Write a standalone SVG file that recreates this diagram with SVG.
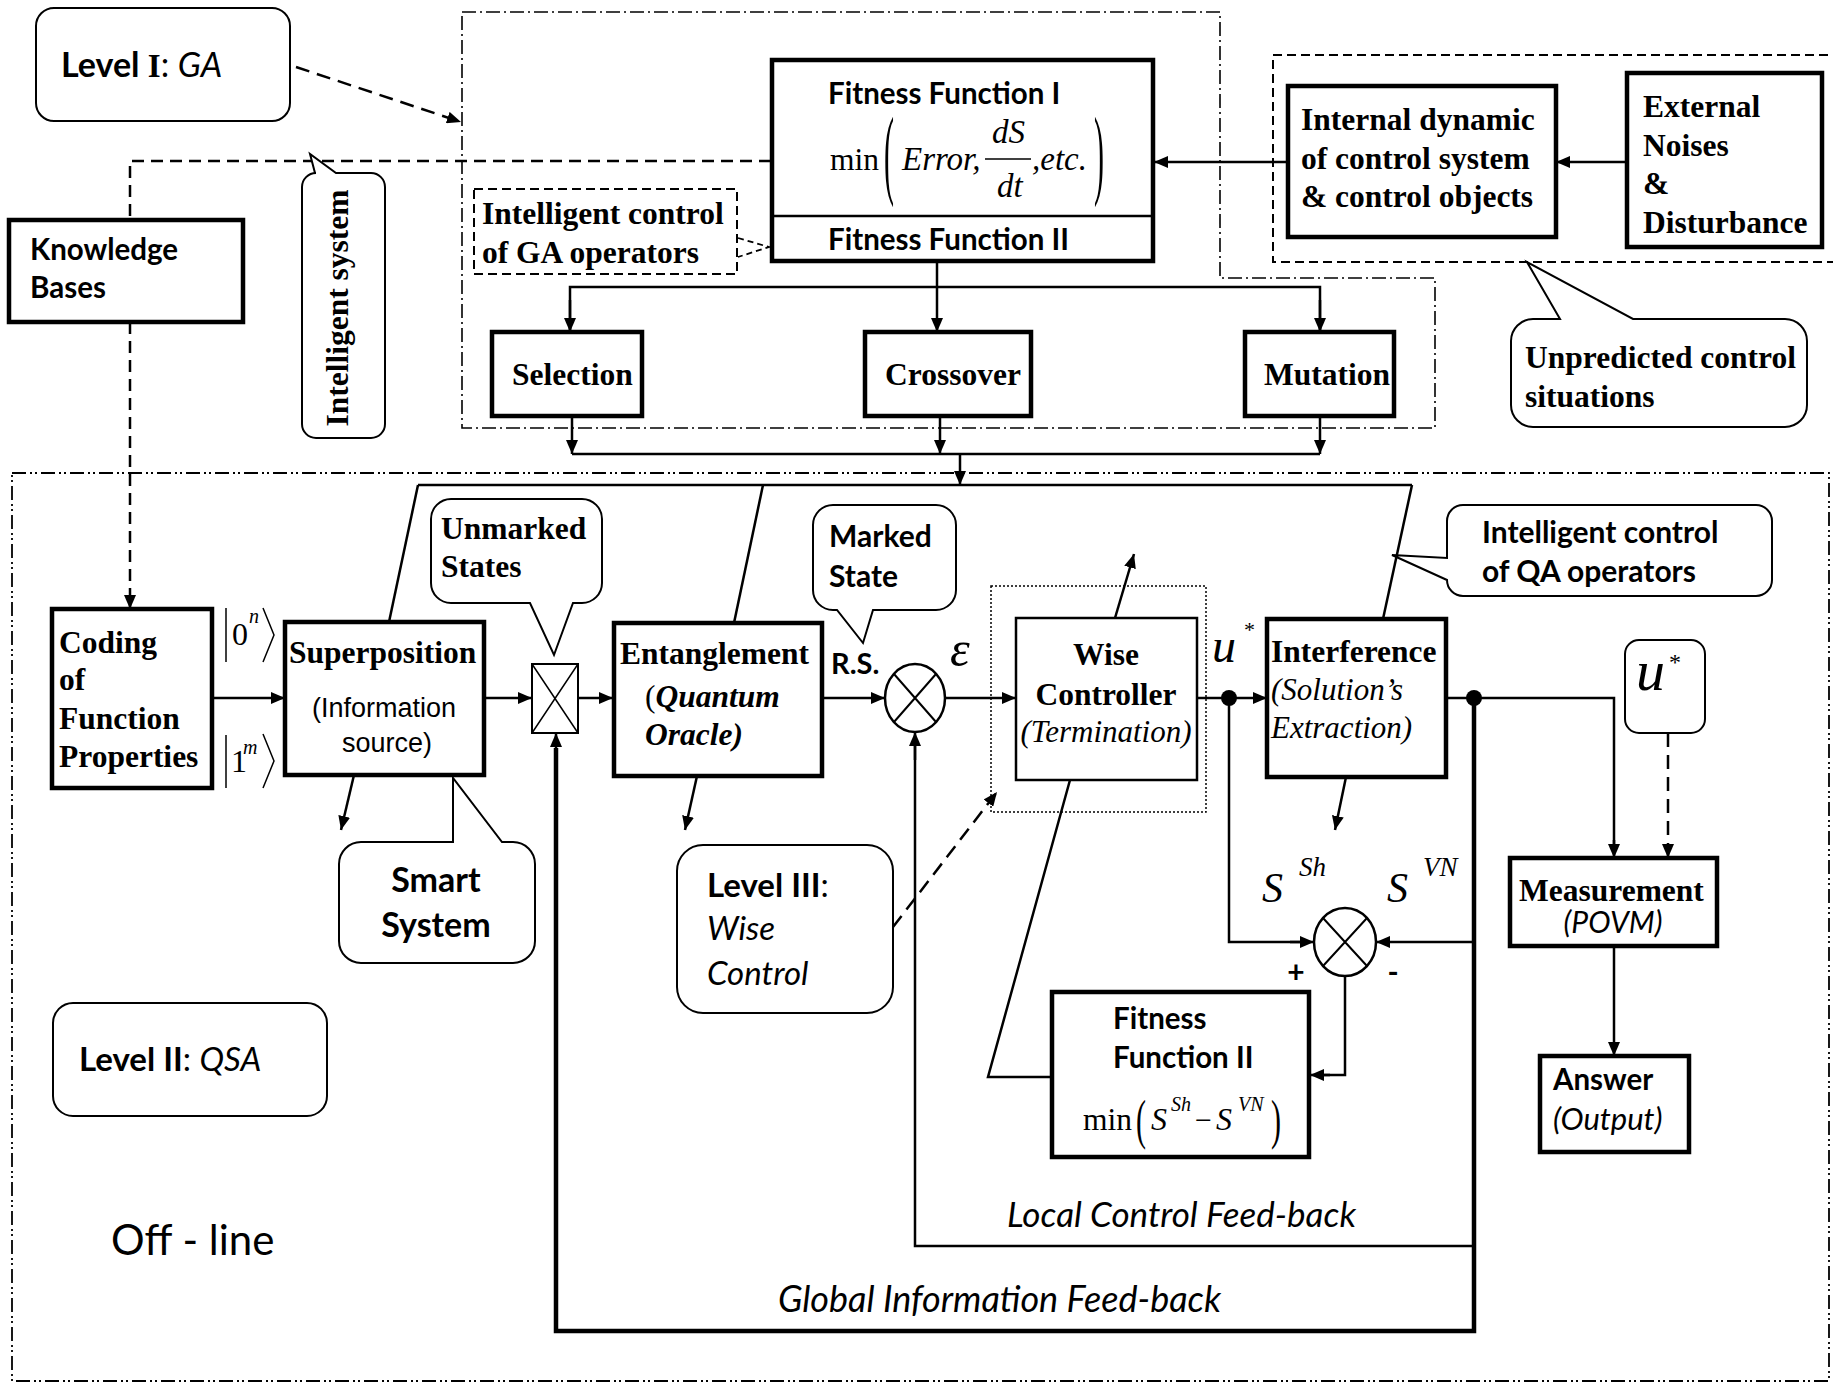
<svg xmlns="http://www.w3.org/2000/svg" width="1833" height="1383" viewBox="0 0 1833 1383">
<defs>
  <marker id="ah" viewBox="0 0 14 12" refX="14" refY="6" markerWidth="14" markerHeight="12" markerUnits="userSpaceOnUse" orient="auto">
    <path d="M0,0 L14,6 L0,12 z" fill="#000"/>
  </marker>
</defs>
<style>
  .box { fill: #fff; stroke: #000; stroke-width: 4.5; }
  .tbox { fill: #fff; stroke: #000; stroke-width: 2.5; }
  .call { fill: #fff; stroke: #000; stroke-width: 2; }
  .ln { fill: none; stroke: #000; stroke-width: 2.5; }
  .thick { fill: none; stroke: #000; stroke-width: 4.5; }
  .arr { fill: none; stroke: #000; stroke-width: 2.5; marker-end: url(#ah); }
  .darr { fill: none; stroke: #000; stroke-width: 2.5; stroke-dasharray: 14 8; marker-end: url(#ah); }
  .dline { fill: none; stroke: #000; stroke-width: 2.5; stroke-dasharray: 12 7; }
  .dashdot { fill: none; stroke: #000; stroke-width: 1.6; stroke-dasharray: 14 4 2 4; }
  .dashdotdot { fill: none; stroke: #000; stroke-width: 1.8; stroke-dasharray: 14 4 2 3 2 4; }
  .dashed { fill: none; stroke: #000; stroke-width: 2; stroke-dasharray: 9 5; }
  .dotted { fill: none; stroke: #000; stroke-width: 1.5; stroke-dasharray: 2 2; }
  .tb { font-family: "Liberation Serif", "Times New Roman", serif; font-weight: bold; font-size: 31.5px; }
  .tr { font-family: "Liberation Serif", "Times New Roman", serif; font-size: 31.5px; }
  .ti { font-family: "Liberation Serif", "Times New Roman", serif; font-style: italic; font-size: 31px; }
  .cb { font-family: Lato, "Liberation Sans", sans-serif; font-weight: bold; font-size: 29.5px; }
  .cr { font-family: Lato, "Liberation Sans", sans-serif; font-size: 29.5px; }
  .ci { font-family: Lato, "Liberation Sans", sans-serif; font-style: italic; font-size: 30px; }
  .ar { font-family: "Liberation Sans", Arial, sans-serif; font-size: 27px; }
</style>
<rect width="1833" height="1383" fill="#fff"/>

<!-- grouping frames -->
<g id="frames">
  <polygon class="dashdot" points="462,12 1220,12 1220,278 1435,278 1435,428 462,428"/>
  <rect class="dashdotdot" x="12" y="473" width="1817" height="908"/>
  <rect class="dashed" x="1273" y="55" width="570" height="207"/>
  <rect class="dotted" x="991" y="586" width="215" height="226"/>
</g>

<!-- connectors -->
<g id="connectors">
  <!-- level I pointer -->
  <line class="darr" x1="296" y1="67" x2="461" y2="122"/>
  <!-- knowledge base loop -->
  <polyline class="dline" points="771,161 130,161 130,220"/>
  <line class="dline" x1="130" y1="322" x2="130" y2="596"/>
  <line class="arr" x1="130" y1="596" x2="130" y2="609"/>
  <!-- GA operators -->
  <line class="arr" x1="937" y1="262" x2="937" y2="332"/>
  <polyline class="ln" points="570,332 570,287 1320,287 1320,332"/>
  <line class="arr" x1="570" y1="300" x2="570" y2="332"/>
  <line class="arr" x1="1320" y1="300" x2="1320" y2="332"/>
  <line class="arr" x1="572" y1="416" x2="572" y2="454"/>
  <line class="arr" x1="940" y1="416" x2="940" y2="454"/>
  <line class="arr" x1="1320" y1="416" x2="1320" y2="454"/>
  <line class="ln" x1="572" y1="454" x2="1320" y2="454"/>
  <line class="arr" x1="960" y1="454" x2="960" y2="485"/>
  <!-- disturbance path -->
  <line class="arr" x1="1628" y1="162" x2="1556" y2="162"/>
  <line class="arr" x1="1288" y1="162" x2="1154" y2="162"/>
  <!-- control bar to QA operators -->
  <line class="ln" x1="418" y1="485" x2="1412" y2="485"/>
  <line class="ln" x1="418" y1="485" x2="389" y2="622"/>
  <line class="ln" x1="763" y1="485" x2="734" y2="623"/>
  <line class="ln" x1="1412" y1="485" x2="1383" y2="619"/>
  <!-- main chain -->
  <line class="arr" x1="212" y1="698" x2="285" y2="698"/>
  <line class="arr" x1="484" y1="698" x2="532" y2="698"/>
  <line class="arr" x1="578" y1="698" x2="613" y2="698"/>
  <line class="arr" x1="822" y1="698" x2="885" y2="698"/>
  <line class="arr" x1="945" y1="698" x2="1016" y2="698"/>
  <line class="ln" x1="1197" y1="698" x2="1229" y2="698"/>
  <line class="arr" x1="1229" y1="698" x2="1267" y2="698"/>
  <polyline class="ln" points="1446,698 1614,698 1614,850"/>
  <line class="arr" x1="1614" y1="840" x2="1614" y2="858"/>
  <line class="darr" x1="1668" y1="733" x2="1668" y2="858"/>
  <line class="arr" x1="1614" y1="946" x2="1614" y2="1056"/>
  <!-- side outputs -->
  <line class="arr" x1="354" y1="775" x2="341" y2="830"/>
  <line class="arr" x1="697" y1="776" x2="685" y2="830"/>
  <line class="arr" x1="1346" y1="777" x2="1335" y2="830"/>
  <line class="arr" x1="1115" y1="618" x2="1134" y2="554"/>
  <!-- entropy difference -->
  <polyline class="ln" points="1229,698 1229,942 1300,942"/>
  <line class="arr" x1="1290" y1="942" x2="1314" y2="942"/>
  <line class="arr" x1="1474" y1="942" x2="1376" y2="942"/>
  <polyline class="ln" points="1345,976 1345,1075 1320,1075"/>
  <line class="arr" x1="1330" y1="1075" x2="1310" y2="1075"/>
  <polyline class="ln" points="1070,780 988,1077 1052,1077"/>
  <!-- local control feed-back -->
  <polyline class="ln" points="1474,1246 915,1246 915,745"/>
  <line class="arr" x1="915" y1="760" x2="915" y2="732"/>
  <!-- global information feed-back -->
  <polyline class="thick" points="1474,698 1474,1331 556,1331 556,748"/>
  <line class="arr" x1="556" y1="760" x2="556" y2="733"/>
  <!-- pointer from GA operator control -->
  <polyline fill="none" stroke="#000" stroke-width="1.8" stroke-dasharray="6 4" points="738,238 769,247 738,257"/>
  <!-- junctions -->
  <circle cx="1229" cy="698" r="8" fill="#000"/>
  <circle cx="1474" cy="698" r="8" fill="#000"/>
</g>

<g id="level1">
  <rect class="call" x="36" y="8" width="254" height="113" rx="18"/>
  <text x="61" y="77" class="cr" style="font-size:34px"><tspan font-weight="bold">Level </tspan><tspan class="tb" style="font-size:33px">I</tspan><tspan>: </tspan><tspan font-style="italic">GA</tspan></text>
</g>

<g id="knowledge-bases">
  <rect class="box" x="9" y="220" width="234" height="102"/>
  <text x="30" y="260" class="cb">Knowledge</text>
  <text x="30" y="298" class="cb">Bases</text>
</g>

<g id="intelligent-system">
  <path class="call" d="M316,173 H315 L310,154 L336,173 H371 A14,14 0 0 1 385,187 V424 A14,14 0 0 1 371,438 H316 A14,14 0 0 1 302,424 V187 A14,14 0 0 1 316,173 Z"/>
  <text class="tb" transform="translate(348,308) rotate(-90)" text-anchor="middle">Intelligent system</text>
</g>

<g id="ga-operator-control">
  <rect class="dashed" x="474" y="189" width="263" height="85" fill="#fff"/>
  <text x="482" y="224" class="tb">Intelligent control</text>
  <text x="482" y="263" class="tb">of GA operators</text>
</g>

<g id="fitness-function">
  <rect class="box" x="772" y="60" width="381" height="201"/>
  <line x1="772" y1="216" x2="1153" y2="216" stroke="#000" stroke-width="2.5"/>
  <text x="828" y="104" class="cb">Fitness Function I</text>
  <text x="830" y="170" class="tr">min</text>
  <text class="tr" style="font-size:30px" transform="translate(884,186) scale(1,3.3)">(</text>
  <text x="902" y="170" class="ti" style="font-size:33px">Error,</text>
  <text x="992" y="143" class="ti" style="font-size:33px">dS</text>
  <line x1="985" y1="159" x2="1031" y2="159" stroke="#000" stroke-width="1.5"/>
  <text x="997" y="197" class="ti" style="font-size:33px">dt</text>
  <text x="1032" y="170" class="ti" style="font-size:33px">,etc.</text>
  <text class="tr" style="font-size:30px" transform="translate(1094,186) scale(1,3.3)">)</text>
  <text x="828" y="250" class="cb">Fitness Function II</text>
</g>

<g id="selection">
  <rect class="box" x="492" y="332" width="150" height="84"/>
  <text x="512" y="385" class="tb">Selection</text>
</g>
<g id="crossover">
  <rect class="box" x="865" y="332" width="166" height="84"/>
  <text x="885" y="385" class="tb">Crossover</text>
</g>
<g id="mutation">
  <rect class="box" x="1245" y="332" width="149" height="84"/>
  <text x="1264" y="385" class="tb">Mutation</text>
</g>

<g id="internal-dynamic">
  <rect class="box" x="1288" y="86" width="268" height="151"/>
  <text x="1301" y="130" class="tb">Internal dynamic</text>
  <text x="1301" y="169" class="tb">of control system</text>
  <text x="1301" y="207" class="tb">&amp; control objects</text>
</g>

<g id="external-noises">
  <rect class="box" x="1627" y="73" width="195" height="174"/>
  <text x="1643" y="117" class="tb">External</text>
  <text x="1643" y="156" class="tb">Noises</text>
  <text x="1643" y="194" class="tb">&amp;</text>
  <text x="1643" y="233" class="tb">Disturbance</text>
</g>

<g id="unpredicted">
  <path class="call" d="M1533,319 H1560 L1527,262 L1633,319 H1785 A22,22 0 0 1 1807,341 V405 A22,22 0 0 1 1785,427 H1533 A22,22 0 0 1 1511,405 V341 A22,22 0 0 1 1533,319 Z"/>
  <text x="1525" y="368" class="tb">Unpredicted control</text>
  <text x="1525" y="407" class="tb">situations</text>
</g>

<g id="coding">
  <rect class="box" x="52" y="609" width="160" height="179"/>
  <text x="59" y="653" class="tb">Coding</text>
  <text x="59" y="690" class="tb">of</text>
  <text x="59" y="729" class="tb">Function</text>
  <text x="59" y="767" class="tb">Properties</text>
</g>

<g id="ket-labels">
  <line x1="226" y1="608" x2="226" y2="662" stroke="#000" stroke-width="1.5"/>
  <text x="232" y="645" class="tr" style="font-size:32px">0</text>
  <text x="249" y="623" class="ti" style="font-size:20px">n</text>
  <polyline points="263,608 274,635 263,662" fill="none" stroke="#000" stroke-width="1.5"/>
  <line x1="226" y1="735" x2="226" y2="788" stroke="#000" stroke-width="1.5"/>
  <text x="231" y="772" class="tr" style="font-size:32px">1</text>
  <text x="243" y="754" class="ti" style="font-size:20px">m</text>
  <polyline points="263,734 274,761 263,788" fill="none" stroke="#000" stroke-width="1.5"/>
</g>

<g id="superposition">
  <rect class="box" x="285" y="622" width="199" height="153"/>
  <text x="289" y="663" class="tb">Superposition</text>
  <text x="312" y="717" class="ar">(Information</text>
  <text x="342" y="752" class="ar">source)</text>
</g>

<g id="unmarked-states">
  <path class="call" d="M451,499 H582 A20,20 0 0 1 602,519 V583 A20,20 0 0 1 582,603 H573 L554,655 L530,603 H451 A20,20 0 0 1 431,583 V519 A20,20 0 0 1 451,499 Z"/>
  <text x="441" y="539" class="tb">Unmarked</text>
  <text x="441" y="577" class="tb">States</text>
</g>

<g id="oracle-gate">
  <rect x="532" y="664" width="46" height="69" fill="#fff" stroke="#000" stroke-width="2"/>
  <path d="M532,664 L578,733 M578,664 L532,733" stroke="#000" stroke-width="1.5"/>
</g>

<g id="entanglement">
  <rect class="box" x="614" y="623" width="208" height="153"/>
  <text x="620" y="664" class="tb">Entanglement</text>
  <text x="645" y="707" class="tr">(<tspan class="tb" font-style="italic">Quantum</tspan></text>
  <text x="645" y="745" class="tb" font-style="italic">Oracle<tspan class="tr">)</tspan></text>
</g>

<g id="marked-state">
  <path class="call" d="M833,505 H936 A20,20 0 0 1 956,525 V590 A20,20 0 0 1 936,610 H873 L863,643 L837,610 H833 A20,20 0 0 1 813,590 V525 A20,20 0 0 1 833,505 Z"/>
  <text x="829" y="547" class="cb" style="font-size:30px">Marked</text>
  <text x="829" y="587" class="cb" style="font-size:30px">State</text>
</g>

<g id="rs-label">
  <text x="831" y="674" class="cb" style="font-size:29px">R.S.</text>
</g>

<g id="sum-node">
  <ellipse cx="915" cy="698" rx="30" ry="34" fill="#fff" stroke="#000" stroke-width="2.5"/>
  <path d="M894,674 L936,722 M936,674 L894,722" stroke="#000" stroke-width="2"/>
  <text x="950" y="666" class="ti" style="font-size:50px">ε</text>
</g>

<g id="wise-controller">
  <rect class="tbox" x="1016" y="618" width="181" height="162"/>
  <text x="1106" y="665" class="tb" text-anchor="middle">Wise</text>
  <text x="1106" y="705" class="tb" text-anchor="middle">Controller</text>
  <text x="1106" y="742" class="ti" text-anchor="middle">(Termination)</text>
</g>

<g id="u-star">
  <text x="1212" y="662" class="ti" style="font-size:48px">u</text>
  <text x="1244" y="637" class="tr" style="font-size:22px">*</text>
</g>

<g id="interference">
  <rect class="box" x="1267" y="619" width="179" height="158"/>
  <text x="1271" y="662" class="tb">Interference</text>
  <text x="1271" y="700" class="ti">(Solution’s</text>
  <text x="1271" y="738" class="ti">Extraction)</text>
</g>

<g id="qa-operator-control">
  <path class="call" d="M1463,505 H1756 A16,16 0 0 1 1772,521 V580 A16,16 0 0 1 1756,596 H1463 A16,16 0 0 1 1447,580 L1392,555 L1447,558 V521 A16,16 0 0 1 1463,505 Z"/>
  <text x="1482" y="543" class="cb" style="font-size:30px">Intelligent control</text>
  <text x="1482" y="582" class="cb" style="font-size:30px">of QA operators</text>
</g>

<g id="u-star-output">
  <rect class="call" x="1625" y="640" width="80" height="93" rx="14"/>
  <text x="1636" y="690" class="ti" style="font-size:58px">u</text>
  <text x="1669" y="670" class="tr" style="font-size:24px">*</text>
</g>

<g id="measurement">
  <rect class="box" x="1510" y="858" width="207" height="88"/>
  <text x="1519" y="901" class="tb">Measurement</text>
  <text x="1613" y="933" class="ci" text-anchor="middle">(POVM)</text>
</g>

<g id="answer">
  <rect class="box" x="1540" y="1056" width="149" height="96"/>
  <text x="1553" y="1090" class="cb">Answer</text>
  <text x="1553" y="1130" class="ci" style="font-size:31px">(Output)</text>
</g>

<g id="entropy-labels">
  <text x="1262" y="902" class="ti" style="font-size:42px">S</text>
  <text x="1299" y="876" class="ti" style="font-size:27px">Sh</text>
  <text x="1387" y="902" class="ti" style="font-size:42px">S</text>
  <text x="1423" y="876" class="ti" style="font-size:27px">VN</text>
</g>

<g id="difference-node">
  <ellipse cx="1345" cy="942" rx="31" ry="34" fill="#fff" stroke="#000" stroke-width="2.5"/>
  <path d="M1323,918 L1367,966 M1367,918 L1323,966" stroke="#000" stroke-width="2"/>
  <text x="1296" y="983" class="cb" style="font-size:30px" text-anchor="middle">+</text>
  <text x="1393" y="983" class="cb" style="font-size:30px" text-anchor="middle">-</text>
</g>

<g id="fitness-function-2">
  <rect class="box" x="1052" y="992" width="257" height="165"/>
  <text x="1113" y="1029" class="cb">Fitness</text>
  <text x="1113" y="1068" class="cb">Function II</text>
  <text x="1083" y="1130" class="tr">min</text>
  <text class="tr" style="font-size:30px" transform="translate(1136,1138) scale(1,1.85)">(</text>
  <text x="1151" y="1130" class="ti" style="font-size:32px">S</text>
  <text x="1171" y="1111" class="ti" style="font-size:20px">Sh</text>
  <text x="1195" y="1130" class="tr" style="font-size:30px">−</text>
  <text x="1216" y="1130" class="ti" style="font-size:32px">S</text>
  <text x="1238" y="1111" class="ti" style="font-size:20px">VN</text>
  <text class="tr" style="font-size:30px" transform="translate(1271,1138) scale(1,1.85)">)</text>
</g>

<g id="smart-system">
  <path class="call" d="M361,842 H453 V778 L502,842 H513 A22,22 0 0 1 535,864 V941 A22,22 0 0 1 513,963 H361 A22,22 0 0 1 339,941 V864 A22,22 0 0 1 361,842 Z"/>
  <text x="436" y="892" class="cb" style="font-size:34px" text-anchor="middle">Smart</text>
  <text x="436" y="937" class="cb" style="font-size:34px" text-anchor="middle">System</text>
</g>

<g id="level3">
  <rect class="call" x="677" y="845" width="216" height="168" rx="26"/>
  <line class="darr" x1="893" y1="927" x2="997" y2="792"/>
  <text x="707" y="897" class="cr" style="font-size:33px"><tspan font-weight="bold">Level III</tspan>:</text>
  <text x="707" y="940" class="ci" style="font-size:33px">Wise</text>
  <text x="707" y="985" class="ci" style="font-size:33px">Control</text>
</g>

<g id="level2">
  <rect class="call" x="53" y="1003" width="274" height="113" rx="20"/>
  <text x="79" y="1071" class="cr" style="font-size:33px"><tspan font-weight="bold">Level II</tspan>: <tspan font-style="italic">QSA</tspan></text>
</g>

<g id="mode-label">
  <text x="111" y="1255" class="cr" style="font-size:42px">Off - line</text>
</g>

<g id="feedback-labels">
  <text x="1007" y="1227" class="ci" style="font-size:35px">Local Control Feed-back</text>
  <text x="778" y="1312" class="ci" style="font-size:36px">Global Information Feed-back</text>
</g>
</svg>
